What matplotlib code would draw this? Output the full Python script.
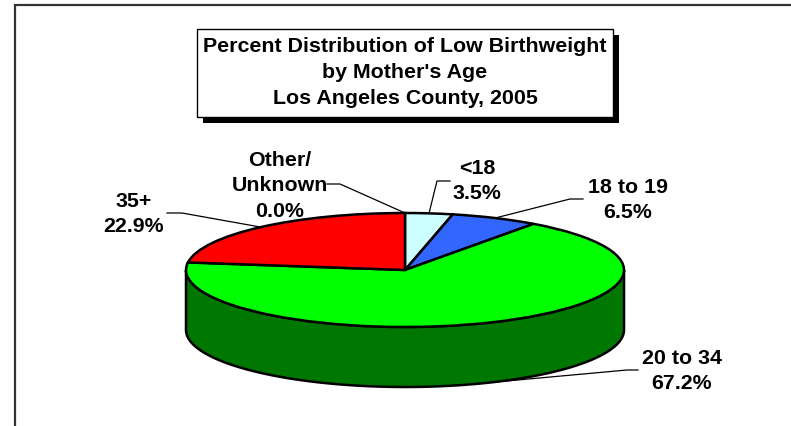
import numpy as np
import matplotlib.pyplot as plt
from matplotlib.patches import Rectangle, Polygon, Wedge
from matplotlib.transforms import Affine2D

plt.rcParams['font.family'] = ['Liberation Sans', 'DejaVu Sans']

# low birthweight share by mother's age, clockwise from 12 o'clock
groups = ['<18', '18 to 19', '20 to 34', '35+', 'Other/\nUnknown']
pcts = [3.5, 6.5, 67.2, 22.9, 0.0]
top_colors = ['#CCFFFF', '#3366FF', '#00FF00', '#FF0000', '#808080']
side_colors = ['#66A0A0', '#1A3399', '#007700', '#990000', '#404040']

# where each label sits and where its leader line bends
label_xy = [(477, 181), (628, 200), (682, 371), (134, 214), (280, 186)]
elbow_xy = [(450, 182), (583, 200), (638, 371), (167, 214), (327, 185)]
knee_xy = [(437, 182), (570, 200), (627, 371), (182, 214), (340, 185)]

title_lines = ["Percent Distribution of Low Birthweight",
               "by Mother's Age",
               "Los Angeles County, 2005"]

fig = plt.figure(figsize=(7.91, 4.27), dpi=100)
ax = fig.add_axes([0, 0, 1, 1])
ax.set_xlim(0, 791)
ax.set_ylim(427, 0)
ax.axis('off')

# outer chart frame (runs off the right and bottom edges)
ax.plot([14.5, 14.5, 800], [440, 5.5, 5.5], color='#333333', lw=1.6,
        solid_joinstyle='miter')

# title box with drop shadow
ax.add_patch(Rectangle((203, 36), 416, 88, facecolor='black', edgecolor='none', zorder=3))
ax.add_patch(Rectangle((197, 30), 416, 88, facecolor='white', edgecolor='black', lw=1, zorder=4))
for i, line in enumerate(title_lines):
    ax.text(405, 46 + 26 * i, line, ha='center', va='center', fontsize=15.4,
            fontweight='bold', zorder=5)

# tilted pie: unit circle squashed into an ellipse
cx, cy, rx, ry, depth = 405, 271, 219, 57, 60
to_px = Affine2D().scale(rx, -ry).translate(cx, cy) + ax.transData

frac = np.array(pcts) / sum(pcts)
ends = 90 - 360 * np.cumsum(frac)
starts = np.concatenate([[90], ends[:-1]])

# front wall: only the parts of each slice with sin(theta) < 0 show
for t_hi, t_lo, col in zip(starts, ends, side_colors):
    for k in range(-2, 2):
        lo = max(t_lo, -180 + 360 * k)
        hi = min(t_hi, 360 * k)
        if hi <= lo:
            continue
        th = np.radians(np.linspace(lo, hi, 120))
        x = cx + rx * np.cos(th)
        y = cy - ry * np.sin(th)
        pts = np.column_stack([np.concatenate([x, x[::-1]]),
                               np.concatenate([y, y[::-1] + depth])])
        ax.add_patch(Polygon(pts, closed=True, facecolor=col, edgecolor='black',
                             lw=1.8, zorder=1))

# top face
for t_hi, t_lo, col, p in zip(starts, ends, top_colors, pcts):
    if p == 0:
        continue
    ax.add_patch(Wedge((0, 0), 1, t_lo, t_hi, facecolor=col, edgecolor='black',
                       lw=1.8, transform=to_px, zorder=2))

# labels with leader lines to the middle of each slice
for name, p, t_hi, t_lo, lxy, exy, kxy in zip(groups, pcts, starts, ends,
                                                label_xy, elbow_xy, knee_xy):
    mid = np.radians((t_hi + t_lo) / 2)
    ax_x = cx + rx * np.cos(mid)
    ax_y = cy - ry * np.sin(mid)
    if np.sin(mid) < 0:
        ax_y += depth
    ax.plot([exy[0], kxy[0], ax_x], [exy[1], kxy[1], ax_y], color='black', lw=0.9,
            zorder=6)
    ax.text(lxy[0], lxy[1], f'{name}\n{p:.1f}%', ha='center', va='center',
            fontsize=15.4, fontweight='bold', linespacing=1.45, zorder=7)

fig.savefig('out.png', dpi=100)
